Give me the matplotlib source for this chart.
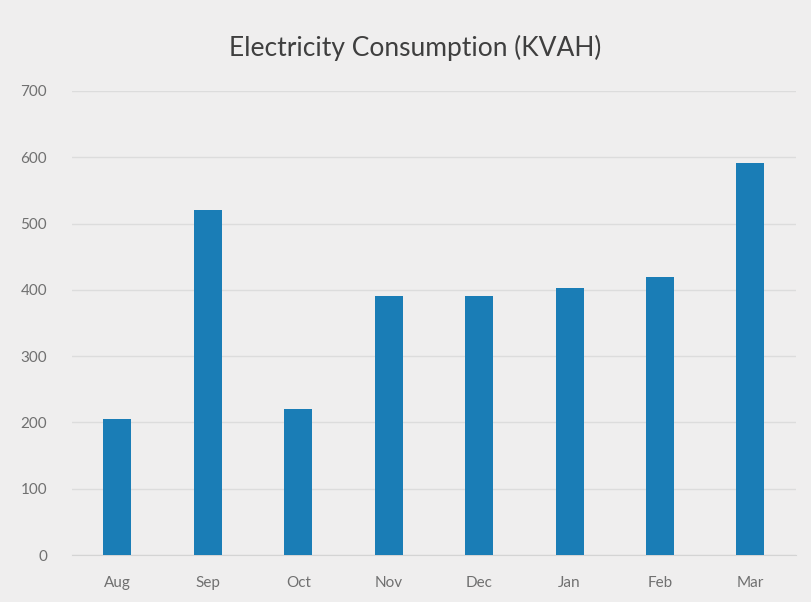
import matplotlib
matplotlib.use("Agg")
import matplotlib.pyplot as plt
import numpy as np

months = ["Aug", "Sep", "Oct", "Nov", "Dec", "Jan", "Feb", "Mar"]
kvah = [205, 520, 220, 391, 390, 402, 420, 592]
yticks = [0, 100, 200, 300, 400, 500, 600, 700]

bg = "#efeeee"
bar_color = "#1a7db6"
text_color = "#707070"

plt.rcParams['font.family'] = ['Lato', 'DejaVu Sans']

fig = plt.figure(figsize=(8.11, 6.02), dpi=100, facecolor=bg)
ax = fig.add_axes([0.089, 0.078, 0.892, 0.771], facecolor=bg)

x = np.arange(len(months))
ax.bar(x, kvah, width=0.31, color=bar_color, zorder=3)

ax.set_xlim(-0.5, len(months) - 0.5)
ax.set_ylim(0, 700)
ax.set_yticks(yticks)
ax.set_xticks(x)
ax.set_xticklabels(months)
ax.grid(axis="y", color="#dcdcdc", linewidth=1, zorder=0)

for s in ["top", "right", "left"]:
    ax.spines[s].set_visible(False)
ax.spines["bottom"].set_color("#d4d4d4")

ax.tick_params(axis="both", length=0, colors=text_color, labelsize=11)
ax.tick_params(axis="y", pad=18)
ax.tick_params(axis="x", pad=15)

fig.text(0.512, 0.92, "Electricity Consumption (KVAH)", ha="center", va="center",
         fontsize=19, color="#3f3f3f")

fig.savefig("out.png", dpi=100, facecolor=bg)
